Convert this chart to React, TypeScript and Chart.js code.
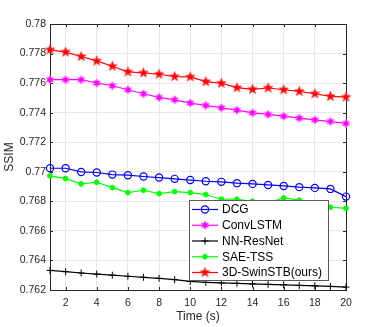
import { useEffect, useRef } from "react";
import { Chart, registerables } from "chart.js";

Chart.register(...registerables);

const times = [1, 2, 3, 4, 5, 6, 7, 8, 9, 10, 11, 12, 13, 14, 15, 16, 17, 18, 19, 20];
const xTicks = [2, 4, 6, 8, 10, 12, 14, 16, 18, 20];

const dcg = [0.77024, 0.77024, 0.76999, 0.76995, 0.76981, 0.76977, 0.76968, 0.76961, 0.76952, 0.76944, 0.76936, 0.76932, 0.76923, 0.76918, 0.76911, 0.76904, 0.76896, 0.76891, 0.76884, 0.76832];
const convLstm = [0.77623, 0.77623, 0.77623, 0.77601, 0.77582, 0.77555, 0.77528, 0.77503, 0.77487, 0.77465, 0.77449, 0.77433, 0.77417, 0.77399, 0.77388, 0.77376, 0.77363, 0.77351, 0.7734, 0.77327];
const nnResNet = [0.76333, 0.76324, 0.76315, 0.76308, 0.763, 0.76293, 0.76286, 0.76279, 0.7627, 0.76258, 0.76252, 0.76248, 0.76245, 0.76241, 0.76238, 0.76235, 0.76231, 0.76228, 0.76224, 0.7622];
const saeTss = [0.76972, 0.76954, 0.76918, 0.76929, 0.76893, 0.76859, 0.76875, 0.76852, 0.76866, 0.76859, 0.76846, 0.76814, 0.76814, 0.768, 0.7679, 0.76823, 0.76808, 0.7678, 0.7676, 0.76753];
const swinStb = [0.77825, 0.7781, 0.7778, 0.7775, 0.77714, 0.77676, 0.77669, 0.7766, 0.77644, 0.77642, 0.7761, 0.77599, 0.77569, 0.77558, 0.77567, 0.77555, 0.77544, 0.77528, 0.7751, 0.77505];

const labels = ["DCG", "ConvLSTM", "NN-ResNet", "SAE-TSS", "3D-SwinSTB(ours)"];

const FONT = '"Liberation Sans", Arial, Helvetica, sans-serif';

function makeStar(points: number, outer: number, inner: number, fill: string, stroke: string) {
  const size = Math.ceil(outer * 2 + 3);
  const c = document.createElement("canvas");
  c.width = size;
  c.height = size;
  const g = c.getContext("2d")!;
  const cx = size / 2;
  const cy = size / 2;
  g.beginPath();
  for (let i = 0; i < points * 2; i++) {
    const r = i % 2 === 0 ? outer : inner;
    const a = -Math.PI / 2 + (i * Math.PI) / points;
    const px = cx + r * Math.cos(a);
    const py = cy + r * Math.sin(a);
    if (i === 0) g.moveTo(px, py);
    else g.lineTo(px, py);
  }
  g.closePath();
  g.fillStyle = fill;
  g.fill();
  g.strokeStyle = stroke;
  g.lineWidth = 0.8;
  g.stroke();
  return c;
}

const toPts = (arr: number[]) => arr.map((v, i) => ({ x: times[i], y: v }));

export default function App() {
  const ref = useRef<HTMLCanvasElement>(null);

  useEffect(() => {
    const canvas = ref.current!;
    const hexagram = makeStar(6, 4.2, 2.4, "#ff00ff", "#ff66ff");
    const pentagram = makeStar(5, 5, 2.1, "#ff0000", "#ff3333");

    const frame = {
      id: "frame",
      beforeDatasetsDraw(chart: any) {
        const { ctx, chartArea, scales } = chart;
        const { left, right, top, bottom } = chartArea;
        const x = scales.x;
        const y = scales.y;
        ctx.save();
        ctx.strokeStyle = "#262626";
        ctx.lineWidth = 1;
        ctx.beginPath();
        for (const t of x.ticks) {
          const px = Math.round(x.getPixelForValue(t.value)) + 0.5;
          ctx.moveTo(px, bottom);
          ctx.lineTo(px, bottom - 3);
          ctx.moveTo(px, top);
          ctx.lineTo(px, top + 3);
        }
        for (const t of y.ticks) {
          const py = Math.round(y.getPixelForValue(t.value)) + 0.5;
          ctx.moveTo(left, py);
          ctx.lineTo(left + 3, py);
          ctx.moveTo(right, py);
          ctx.lineTo(right - 3, py);
        }
        ctx.stroke();
        ctx.strokeRect(Math.round(left) + 0.5, Math.round(top) + 0.5, Math.round(right - left), Math.round(bottom - top));
        ctx.restore();
      },
    };

    const legend = {
      id: "boxLegend",
      afterDraw(chart: any) {
        const ctx = chart.ctx;
        const bx = 189.5;
        const by = 200.5;
        const bw = 139;
        const bh = 80;
        ctx.save();
        ctx.fillStyle = "#ffffff";
        ctx.fillRect(bx, by, bw, bh);
        ctx.strokeStyle = "#5a5a5a";
        ctx.lineWidth = 1;
        ctx.strokeRect(bx, by, bw, bh);
        chart.data.datasets.forEach((ds: any, i: number) => {
          const yy = 209.5 + i * 15.75;
          ctx.strokeStyle = ds.borderColor;
          ctx.lineWidth = ds.borderWidth;
          ctx.beginPath();
          ctx.moveTo(192, yy);
          ctx.lineTo(218, yy);
          ctx.stroke();
          const mx = 205;
          const ps = ds.pointStyle;
          if (ps instanceof HTMLCanvasElement) {
            ctx.drawImage(ps, mx - ps.width / 2, yy - ps.height / 2);
          } else if (ps === "circle") {
            ctx.beginPath();
            ctx.arc(mx, yy, ds.pointRadius, 0, Math.PI * 2);
            ctx.fillStyle = ds.pointBackgroundColor;
            ctx.fill();
            ctx.lineWidth = ds.pointBorderWidth;
            ctx.strokeStyle = ds.pointBorderColor;
            ctx.stroke();
          } else if (ps === "cross") {
            const r = ds.pointRadius;
            ctx.beginPath();
            ctx.moveTo(mx - r, yy);
            ctx.lineTo(mx + r, yy);
            ctx.moveTo(mx, yy - r);
            ctx.lineTo(mx, yy + r);
            ctx.lineWidth = ds.pointBorderWidth;
            ctx.strokeStyle = ds.pointBorderColor;
            ctx.stroke();
          }
          ctx.fillStyle = "#000000";
          ctx.font = `12px ${FONT}`;
          ctx.textBaseline = "middle";
          ctx.textAlign = "left";
          ctx.fillText(ds.label, 222, yy + 0.5);
        });
        ctx.restore();
      },
    };

    const chart = new Chart(canvas, {
      type: "line",
      data: {
        datasets: [
          {
            label: labels[0],
            data: toPts(dcg),
            borderColor: "#0000ff",
            borderWidth: 1.2,
            pointStyle: "circle",
            pointRadius: 3.6,
            pointBorderWidth: 1.2,
            pointBorderColor: "#0000ff",
            pointBackgroundColor: "rgba(0,0,0,0)",
            clip: false,
          },
          {
            label: labels[1],
            data: toPts(convLstm),
            borderColor: "#ff00ff",
            borderWidth: 1.2,
            pointStyle: hexagram,
            pointRadius: 4,
            clip: false,
          },
          {
            label: labels[2],
            data: toPts(nnResNet),
            borderColor: "#000000",
            borderWidth: 1.2,
            pointStyle: "cross",
            pointRadius: 3.5,
            pointBorderWidth: 1,
            pointBorderColor: "#000000",
            pointBackgroundColor: "#000000",
            clip: false,
          },
          {
            label: labels[3],
            data: toPts(saeTss),
            borderColor: "#00ff00",
            borderWidth: 1.2,
            pointStyle: "circle",
            pointRadius: 2.4,
            pointBorderWidth: 1,
            pointBorderColor: "#00ff00",
            pointBackgroundColor: "#00ff00",
            clip: false,
          },
          {
            label: labels[4],
            data: toPts(swinStb),
            borderColor: "#ff0000",
            borderWidth: 1.2,
            pointStyle: pentagram,
            pointRadius: 5,
            clip: false,
          },
        ] as any,
      },
      options: {
        responsive: false,
        animation: false,
        devicePixelRatio: 1,
        layout: { padding: { left: 0, top: 24, right: 36, bottom: 0 } },
        plugins: { legend: { display: false }, tooltip: { enabled: false } },
        scales: {
          x: {
            type: "linear",
            min: 1,
            max: 20,
            afterBuildTicks: (scale: any) => {
              scale.ticks = xTicks.map((v) => ({ value: v }));
            },
            afterFit: (scale: any) => {
              scale.height = 37;
            },
            grid: { color: "#e8e8e8", lineWidth: 1, drawTicks: false },
            border: { display: false },
            ticks: {
              color: "#262626",
              font: { family: FONT, size: 10.5 },
              padding: 7,
              maxRotation: 0,
              autoSkip: false,
            },
            title: {
              display: true,
              text: "Time (s)",
              color: "#262626",
              font: { family: FONT, size: 12 },
              padding: { top: 0, bottom: 3 },
            },
          },
          y: {
            min: 0.762,
            max: 0.78,
            afterFit: (scale: any) => {
              scale.width = 50;
            },
            grid: { color: "#e8e8e8", lineWidth: 1, drawTicks: false },
            border: { display: false },
            ticks: {
              stepSize: 0.002,
              color: "#262626",
              font: { family: FONT, size: 10.5 },
              padding: 4,
              callback: (v: any) => String(parseFloat(Number(v).toFixed(3))),
            },
            title: {
              display: true,
              text: "SSIM",
              color: "#262626",
              font: { family: FONT, size: 12 },
              padding: { top: 2, bottom: 0 },
            },
          },
        },
      },
      plugins: [frame, legend],
    });

    return () => chart.destroy();
  }, []);

  return (
    <div style={{ position: "fixed", left: 0, top: 0, width: 382, height: 327, background: "#ffffff" }}>
      <canvas ref={ref} width={382} height={327} style={{ display: "block", width: 382, height: 327 }} />
    </div>
  );
}
